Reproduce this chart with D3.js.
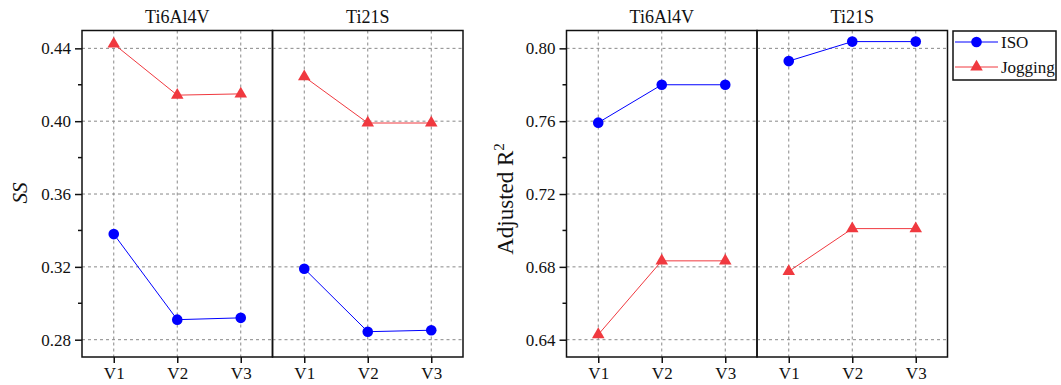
<!DOCTYPE html>
<html>
<head>
<meta charset="utf-8">
<script src="https://cdn.jsdelivr.net/npm/d3@7"></script>
<style>
  body { margin: 0; background: #fff; }
</style>
</head>
<body>
<div id="chart"></div>
<script>
// categories and groups
var versions = ["V1", "V2", "V3"];
var alloys = ["Ti6Al4V", "Ti21S"];
var seriesNames = ["ISO", "Jogging"];

// SS values, [Ti6Al4V, Ti21S] per series
var ssIso = [[0.338, 0.291, 0.292], [0.319, 0.2844, 0.2852]];
var ssJogging = [[0.4424, 0.4143, 0.4150], [0.4244, 0.3990, 0.3990]];

// Adjusted R2 values
var r2Iso = [[0.7592, 0.780, 0.780], [0.793, 0.8037, 0.8037]];
var r2Jogging = [[0.6428, 0.6833, 0.6833], [0.6775, 0.7010, 0.7010]];

var ssTicks = [0.28, 0.32, 0.36, 0.40, 0.44];
var r2Ticks = [0.64, 0.68, 0.72, 0.76, 0.80];

var svgWidth = 1061;
var svgHeight = 385;
var blue = "#0000ff";
var red = "#f0393f";
var serif = "'Liberation Serif', serif";

var svg = d3.select("#chart")
  .append("svg")
  .attr("width", svgWidth)
  .attr("height", svgHeight);

var triangle = d3.symbol().type(d3.symbolTriangle).size(68);

function drawChart(left, isoData, jogData, domain, ticks, minorTicks) {
  var top = 30.5, bottom = 357, panelW = 190.5;
  var y = d3.scaleLinear().domain(domain).range([bottom, top]);
  var g = svg.append("g");

  alloys.forEach(function(alloy, i) {
    var x0 = left + i * panelW;
    var x = d3.scalePoint().domain(versions).range([x0, x0 + panelW]).padding(0.5);
    var pg = g.append("g");

    // grid
    pg.selectAll(".hgrid").data(ticks).enter().append("line")
      .attr("x1", x0).attr("x2", x0 + panelW)
      .attr("y1", d => y(d)).attr("y2", d => y(d))
      .attr("stroke", "#888").attr("stroke-width", 1).attr("stroke-dasharray", "3,3");
    pg.selectAll(".vgrid").data(versions).enter().append("line")
      .attr("x1", d => x(d)).attr("x2", d => x(d))
      .attr("y1", top).attr("y2", bottom)
      .attr("stroke", "#888").attr("stroke-width", 1).attr("stroke-dasharray", "3,3");

    // x axis
    var xAxis = d3.axisBottom(x).tickSize(6).tickPadding(4);
    var xa = pg.append("g").attr("transform", `translate(0, ${bottom})`).call(xAxis);
    xa.select(".domain").remove();
    xa.selectAll("line").attr("stroke", "#111").attr("stroke-width", 1.5);
    xa.selectAll("text").style("font-size", "17px");

    // series
    var iso = versions.map((v, k) => [x(v), y(isoData[i][k])]);
    var jog = versions.map((v, k) => [x(v), y(jogData[i][k])]);
    pg.append("path").attr("d", d3.line()(jog)).attr("fill", "none").attr("stroke", red).attr("stroke-width", 1);
    pg.append("path").attr("d", d3.line()(iso)).attr("fill", "none").attr("stroke", blue).attr("stroke-width", 1);
    pg.selectAll(".tri").data(jog).enter().append("path")
      .attr("d", triangle)
      .attr("transform", d => `translate(${d[0]}, ${d[1]})`)
      .attr("fill", red);
    pg.selectAll(".dot").data(iso).enter().append("circle")
      .attr("cx", d => d[0]).attr("cy", d => d[1]).attr("r", 5.3)
      .attr("fill", blue);

    // frame
    pg.append("rect").attr("x", x0).attr("y", top).attr("width", panelW).attr("height", bottom - top)
      .attr("fill", "none").attr("stroke", "#111").attr("stroke-width", 1.5);

    // panel title
    pg.append("text").attr("x", x0 + panelW / 2).attr("y", 23)
      .attr("text-anchor", "middle").style("font-size", "18px").text(alloy);
  });

  // y axis
  var yAxis = d3.axisLeft(y).tickValues(ticks).tickSize(7).tickPadding(4).tickFormat(d3.format(".2f"));
  var ya = g.append("g").attr("transform", `translate(${left}, 0)`).call(yAxis);
  ya.select(".domain").remove();
  ya.selectAll("line").attr("stroke", "#111").attr("stroke-width", 1.5);
  ya.selectAll("text").style("font-size", "17px");
  g.selectAll(".minor").data(minorTicks).enter().append("line")
    .attr("x1", left - 4).attr("x2", left)
    .attr("y1", d => y(d)).attr("y2", d => y(d))
    .attr("stroke", "#111").attr("stroke-width", 1.5);
  return g;
}

var ssChart = drawChart(82, ssIso, ssJogging, [0.2705, 0.4498], ssTicks, [0.30, 0.34, 0.38, 0.42]);
ssChart.append("text")
  .attr("transform", "translate(27, 193) rotate(-90)")
  .attr("text-anchor", "middle")
  .style("font-size", "21px").style("font-style", "italic")
  .text("SS");

var r2Chart = drawChart(566.5, r2Iso, r2Jogging, [0.6305, 0.8098], r2Ticks, [0.66, 0.70, 0.74, 0.78]);
var r2Label = r2Chart.append("text")
  .attr("transform", "translate(513, 199) rotate(-90)")
  .attr("text-anchor", "middle").style("font-size", "23px");
r2Label.append("tspan").text("Adjusted R");
r2Label.append("tspan").style("font-size", "15px").attr("dy", "-0.6em").text("2");

// legend
var legend = svg.append("g").attr("transform", "translate(953, 31)");
legend.append("rect").attr("width", 103).attr("height", 49)
  .attr("fill", "#fff").attr("stroke", "#111").attr("stroke-width", 1.5);
seriesNames.forEach(function(name, i) {
  var ly = 11 + i * 25;
  var col = i === 0 ? blue : red;
  legend.append("line").attr("x1", 2).attr("x2", 45).attr("y1", ly).attr("y2", ly)
    .attr("stroke", col).attr("stroke-width", 1);
  if (i === 0) {
    legend.append("circle").attr("cx", 23.5).attr("cy", ly).attr("r", 5.3).attr("fill", col);
  } else {
    legend.append("path").attr("d", triangle).attr("transform", `translate(23.5, ${ly})`).attr("fill", col);
  }
  legend.append("text").attr("x", 48).attr("y", ly + 5.5).style("font-size", "17px").text(name);
});

// serif font on every label
svg.selectAll("text").style("font-family", serif).style("fill", "#111");
</script>
</body>
</html>
